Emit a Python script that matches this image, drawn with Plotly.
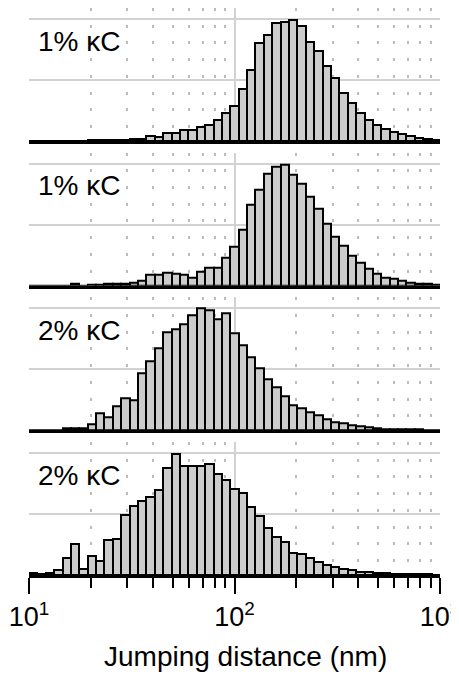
import numpy as np
import plotly.graph_objects as go
from plotly.subplots import make_subplots

# ---- data (heights in units of the horizontal grid spacing) ----
n_bins = 49
log_min, log_max = 1.0, 3.0

labels = ["1% κC", "1% κC", "2% κC", "2% κC"]
x_title = "Jumping distance (nm)"

panel1 = [0.003, 0.003, 0.003, 0.003, 0.003, 0.005, 0.005, 0.010, 0.008, 0.010,
          0.012, 0.015, 0.030, 0.040, 0.082, 0.071, 0.126, 0.137, 0.181, 0.181,
          0.230, 0.258, 0.345, 0.455, 0.575, 0.860, 1.167, 1.605, 1.737, 1.934,
          1.956, 1.990, 1.879, 1.616, 1.479, 1.222, 1.025, 0.784, 0.619, 0.466,
          0.345, 0.258, 0.203, 0.153, 0.110, 0.082, 0.055, 0.038, 0.022]

panel2 = [0.005, 0.005, 0.005, 0.005, 0.005, 0.040, 0.005, 0.008, 0.010, 0.027,
          0.027, 0.038, 0.055, 0.082, 0.181, 0.181, 0.208, 0.192, 0.181, 0.137,
          0.230, 0.290, 0.290, 0.455, 0.647, 0.915, 1.332, 1.573, 1.836, 1.956,
          1.989, 1.825, 1.671, 1.463, 1.260, 1.014, 0.811, 0.658, 0.493, 0.384,
          0.274, 0.192, 0.137, 0.110, 0.082, 0.055, 0.038, 0.027, 0.016]

panel3 = [0.005, 0.005, 0.005, 0.005, 0.030, 0.035, 0.030, 0.097, 0.284, 0.214,
          0.391, 0.520, 0.493, 0.928, 1.126, 1.340, 1.609, 1.651, 1.743, 1.877,
          1.995, 1.968, 1.812, 1.914, 1.582, 1.394, 1.196, 1.008, 0.842, 0.708,
          0.552, 0.413, 0.365, 0.295, 0.241, 0.188, 0.134, 0.107, 0.080, 0.064,
          0.043, 0.030, 0.020, 0.016, 0.012, 0.010, 0.008, 0.006, 0.005]

panel4 = [0.035, 0.010, 0.027, 0.075, 0.280, 0.504, 0.093, 0.312, 0.236, 0.580,
          0.597, 0.986, 1.134, 1.216, 1.271, 1.397, 1.753, 1.989, 1.792, 1.792,
          1.792, 1.819, 1.655, 1.551, 1.408, 1.342, 1.107, 0.970, 0.767, 0.630,
          0.548, 0.367, 0.340, 0.274, 0.208, 0.164, 0.126, 0.104, 0.082, 0.055,
          0.044, 0.033, 0.027, 0.022, 0.016, 0.012, 0.010, 0.008, 0.006]

panels = [panel1, panel2, panel3, panel4]

major_vals = [10, 100, 1000]
major_text = ["10<sup>1</sup>", "10<sup>2</sup>", "10<sup>3</sup>"]
minor_vals = [m * d for d in (10, 100) for m in range(2, 10)]

# ---- bins (log spaced) ----
edges = 10 ** np.linspace(log_min, log_max, n_bins + 1)
lefts = edges[:-1]
widths = np.diff(edges)

# the page body adds an 8px offset; margins compensate
W, H = 459, 675
m_t, m_b, m_l, m_r = 0, 108, 21, 27
plot_h = H - m_t - m_b
gap_px = 11.7

fig = make_subplots(rows=4, cols=1, shared_xaxes=False,
                    vertical_spacing=gap_px / plot_h)

font_family = "Arial, Liberation Sans, sans-serif"

for i, vals in enumerate(panels):
    r = i + 1
    fig.add_trace(go.Bar(
        x=lefts, y=vals, width=widths, offset=0,
        marker=dict(color="#cccccc", line=dict(color="black", width=2)),
        showlegend=False, hoverinfo="skip"), row=r, col=1)
    last = (r == 4)
    fig.update_xaxes(
        type="log", range=[log_min, log_max], automargin=False,
        tickmode="array", tickvals=major_vals, ticktext=major_text,
        showticklabels=last, ticklabeloverflow="allow",
        ticks="outside" if last else "", ticklen=16, tickwidth=2, tickcolor="black",
        showgrid=True, gridcolor="#d2d2d2", gridwidth=1.5,
        showline=True, linecolor="black", linewidth=2.5,
        zeroline=False,
        tickfont=dict(size=27, color="black", family=font_family),
        minor=dict(tickmode="array", tickvals=minor_vals,
                   ticks="outside" if last else "", ticklen=10, tickwidth=2,
                   tickcolor="black",
                   showgrid=True, gridcolor="#bcbcbc", gridwidth=1.5,
                   griddash="3px,13.7px"),
        row=r, col=1)
    fig.update_yaxes(
        range=[0, 2.18], tickvals=[1, 2], showticklabels=False, ticks="",
        automargin=False,
        showgrid=True, gridcolor="#d2d2d2", gridwidth=1.5,
        zeroline=False, showline=False, row=r, col=1)
    fig.add_annotation(
        text=labels[i], xref=f"x{'' if r == 1 else r} domain",
        yref=f"y{'' if r == 1 else r} domain",
        x=0.018, y=0.75, xanchor="left", yanchor="middle", showarrow=False,
        font=dict(size=28, color="black", family=font_family))

# axis title placed as an annotation (slightly right of centre, as in the reference)
fig.add_annotation(
    text=x_title, xref="paper", yref="paper",
    x=(237 - m_l) / (W - m_l - m_r), y=-(649 - (H - m_b)) / plot_h,
    xanchor="center", yanchor="middle", showarrow=False,
    font=dict(size=28, color="black", family=font_family))

fig.update_layout(
    width=W, height=H, bargap=0,
    margin=dict(t=m_t, b=m_b, l=m_l, r=m_r, autoexpand=False),
    plot_bgcolor="white", paper_bgcolor="white",
    font=dict(family=font_family, color="black"))

fig.write_html("out.html")
